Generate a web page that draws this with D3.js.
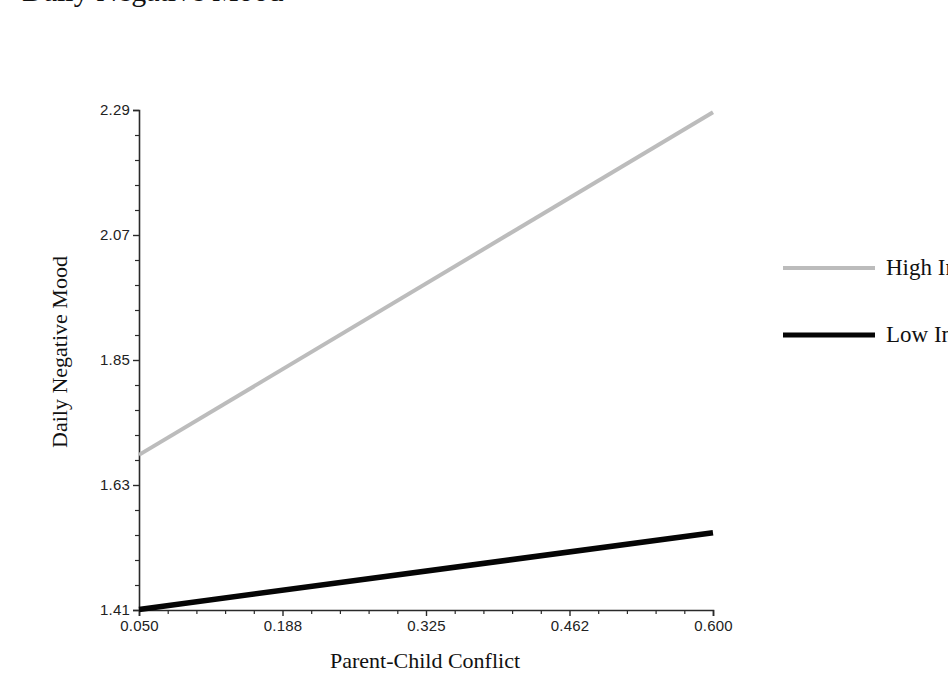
<!DOCTYPE html>
<html>
<head>
<meta charset="utf-8">
<script src="https://cdn.jsdelivr.net/npm/d3@7"></script>
<style>
  html, body { margin: 0; padding: 0; background: #ffffff; }
  svg { display: block; }
</style>
</head>
<body>
<svg id="chart" width="948" height="694"></svg>
<script>
// ---- data ----
const conflictX = [0.05, 0.6];
const highSeries = [1.683, 2.286];
const lowSeries = [1.411, 1.546];
const xTickValues = [0.05, 0.1875, 0.325, 0.4625, 0.6];
const xTickLabels = ["0.050", "0.188", "0.325", "0.462", "0.600"];
const yTickValues = [1.41, 1.63, 1.85, 2.07, 2.29];
const yTickLabels = ["1.41", "1.63", "1.85", "2.07", "2.29"];
const seriesNames = ["High Internalizing", "Low Internalizing"];
const chartTitle = "Daily Negative Mood";
const xTitle = "Parent-Child Conflict";
const yTitle = "Daily Negative Mood";

// ---- layout ----
const svg = d3.select("#chart");
const x = d3.scaleLinear().domain([0.05, 0.6]).range([139, 713]);
const y = d3.scaleLinear().domain([1.41, 2.29]).range([610, 110]);

const serif = "'Liberation Serif', 'Times New Roman', serif";
const sans = "'Liberation Sans', Arial, sans-serif";

// clipped title at the top
svg.append("text")
  .attr("x", 22).attr("y", 1)
  .attr("font-family", serif).attr("font-size", 30)
  .attr("fill", "#111")
  .text(chartTitle);

// minor ticks
const xMinor = [];
for (let i = 0; i < xTickValues.length - 1; i++) {
  const step = (xTickValues[i + 1] - xTickValues[i]) / 5;
  for (let k = 1; k < 5; k++) xMinor.push(xTickValues[i] + k * step);
}
const yMinor = [];
for (let i = 0; i < yTickValues.length - 1; i++) {
  const step = (yTickValues[i + 1] - yTickValues[i]) / 5;
  for (let k = 1; k < 5; k++) yMinor.push(yTickValues[i] + k * step);
}

const axisColor = "#2a2a2a";

const xAxis = d3.axisBottom(x).tickValues(xTickValues)
  .tickFormat((d, i) => xTickLabels[i]).tickSize(6).tickPadding(4);
const gx = svg.append("g").attr("transform", "translate(0,610)").call(xAxis);
gx.select(".domain").attr("stroke", axisColor).attr("stroke-width", 1.6);
gx.selectAll(".tick line").attr("stroke", axisColor).attr("stroke-width", 1.4);
gx.selectAll(".tick text").attr("font-family", sans).attr("font-size", 15)
  .attr("fill", "#222").attr("letter-spacing", "0.2px");

const gxm = svg.append("g").attr("transform", "translate(0,610)")
  .call(d3.axisBottom(x).tickValues(xMinor).tickSize(4).tickFormat(""));
gxm.select(".domain").remove();
gxm.selectAll(".tick line").attr("stroke", axisColor).attr("stroke-width", 1.2);

const yAxis = d3.axisLeft(y).tickValues(yTickValues)
  .tickFormat((d, i) => yTickLabels[i]).tickSize(6).tickPadding(3);
const gy = svg.append("g").attr("transform", "translate(139,0)").call(yAxis);
gy.select(".domain").attr("stroke", axisColor).attr("stroke-width", 1.6);
gy.selectAll(".tick line").attr("stroke", axisColor).attr("stroke-width", 1.4);
gy.selectAll(".tick text").attr("font-family", sans).attr("font-size", 15)
  .attr("fill", "#222").attr("letter-spacing", "0.2px");

const gym = svg.append("g").attr("transform", "translate(139,0)")
  .call(d3.axisLeft(y).tickValues(yMinor).tickSize(4).tickFormat(""));
gym.select(".domain").remove();
gym.selectAll(".tick line").attr("stroke", axisColor).attr("stroke-width", 1.2);

// lines
const line = d3.line().x((d, i) => x(conflictX[i])).y(d => y(d));
svg.append("path").datum(highSeries)
  .attr("d", line).attr("fill", "none")
  .attr("stroke", "#bcbcbc").attr("stroke-width", 4);
svg.append("path").datum(lowSeries)
  .attr("d", line).attr("fill", "none")
  .attr("stroke", "#050505").attr("stroke-width", 5.5);

// axis titles
svg.append("text")
  .attr("x", 425).attr("y", 668)
  .attr("text-anchor", "middle")
  .attr("font-family", serif).attr("font-size", 22).attr("fill", "#111")
  .text(xTitle);
svg.append("text")
  .attr("transform", "translate(67,352) rotate(-90)")
  .attr("text-anchor", "middle")
  .attr("font-family", serif).attr("font-size", 22).attr("fill", "#111")
  .text(yTitle);

// legend
const legendColors = ["#bcbcbc", "#050505"];
const legendWidths = [4, 5];
const legendY = [268, 335];
seriesNames.forEach((name, i) => {
  svg.append("line")
    .attr("x1", 783).attr("x2", 875)
    .attr("y1", legendY[i]).attr("y2", legendY[i])
    .attr("stroke", legendColors[i]).attr("stroke-width", legendWidths[i]);
  svg.append("text")
    .attr("x", 886).attr("y", legendY[i] + 7)
    .attr("font-family", serif).attr("font-size", 23).attr("fill", "#111")
    .text(name);
});
</script>
</body>
</html>
